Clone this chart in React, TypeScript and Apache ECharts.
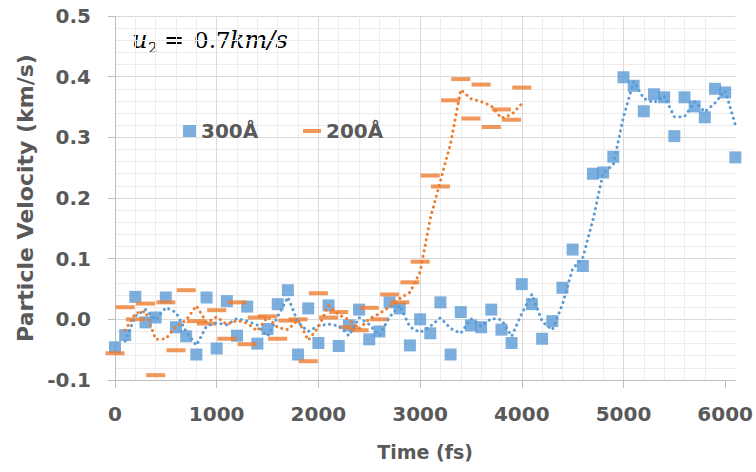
import React, { useEffect, useRef } from "react";
import * as echarts from "echarts";

// Time (fs) for the 300Å run
const t300 = [
  0, 100, 200, 300, 400, 500, 600, 700, 800, 900,
  1000, 1100, 1200, 1300, 1400, 1500, 1600, 1700, 1800, 1900,
  2000, 2100, 2200, 2300, 2400, 2500, 2600, 2700, 2800, 2900,
  3000, 3100, 3200, 3300, 3400, 3500, 3600, 3700, 3800, 3900,
  4000, 4100, 4200, 4300, 4400, 4500, 4600, 4700, 4800, 4900,
  5000, 5100, 5200, 5300, 5400, 5500, 5600, 5700, 5800, 5900,
  6000, 6100,
];
// Particle velocity (km/s) for 300Å
const v300 = [
  -0.046, -0.026, 0.037, -0.005, 0.003, 0.036, -0.013, -0.028, -0.058, 0.036,
  -0.048, 0.030, -0.027, 0.021, -0.040, -0.016, 0.025, 0.048, -0.058, 0.018,
  -0.039, 0.023, -0.044, -0.010, 0.016, -0.033, -0.020, 0.028, 0.018, -0.043,
  0.000, -0.023, 0.028, -0.058, 0.012, -0.010, -0.013, 0.016, -0.017, -0.039,
  0.058, 0.025, -0.032, -0.003, 0.052, 0.115, 0.088, 0.240, 0.242, 0.268,
  0.399, 0.385, 0.343, 0.371, 0.366, 0.302, 0.366, 0.351, 0.333, 0.380,
  0.374, 0.267,
];
// Time (fs) for the 200Å run
const t200 = [
  0, 100, 200, 300, 400, 500, 600, 700, 800, 900,
  1000, 1100, 1200, 1300, 1400, 1500, 1600, 1700, 1800, 1900,
  2000, 2100, 2200, 2300, 2400, 2500, 2600, 2700, 2800, 2900,
  3000, 3100, 3200, 3300, 3400, 3500, 3600, 3700, 3800, 3900,
  4000,
];
// Particle velocity (km/s) for 200Å
const v200 = [
  -0.056, 0.020, 0.000, 0.026, -0.092, 0.028, -0.051, 0.048, -0.003, -0.007,
  0.015, -0.032, 0.028, -0.041, 0.003, 0.005, -0.032, -0.002, 0.000, -0.069,
  0.043, 0.003, 0.012, -0.013, -0.018, 0.019, 0.000, 0.041, 0.028, 0.061,
  0.095, 0.237, 0.219, 0.361, 0.396, 0.331, 0.387, 0.317, 0.346, 0.329,
  0.382,
];
const xTicks = [0, 1000, 2000, 3000, 4000, 5000, 6000];
const seriesNames = ["300Å", "200Å"];

// 2-period moving average trendline (as in the spreadsheet)
function movingAverage(ts: number[], vs: number[]) {
  const out: number[][] = [];
  for (let i = 1; i < vs.length; i++) out.push([ts[i], (vs[i - 1] + vs[i]) / 2]);
  return out;
}

const BLUE = "#5B9BD5";
const ORANGE = "#ED7D31";
const GRAY_TEXT = "#595959";
const FONT = "DejaVu Sans";
const MAJOR = "#d9d9d9";
const MINOR = "#ececec";

export default function App() {
  const ref = useRef<HTMLDivElement>(null);
  useEffect(() => {
    if (!ref.current) return;
    const chart = echarts.init(ref.current, null, { renderer: "svg" });
    const labelStyle = { fontSize: 20, fontWeight: "bold", fontFamily: FONT, color: GRAY_TEXT };
    const option: any = {
      animation: false,
      grid: { left: 115, right: 19, top: 16, bottom: 92, containLabel: false },
      xAxis: [
        {
          type: "value", min: 0, max: 6100, interval: 200, position: "bottom",
          axisLine: { show: false }, axisTick: { show: false }, axisLabel: { show: false },
          splitLine: {
            show: true, showMaxLine: false,
            lineStyle: { color: ["rgba(0,0,0,0)", MINOR, MINOR, MINOR, MINOR], width: 1 },
          },
        },
        {
          type: "value", min: 0, max: 6100, interval: 1000, position: "bottom",
          name: "Time (fs)", nameLocation: "middle", nameGap: 62,
          nameTextStyle: { fontSize: 19, fontWeight: "bold", fontFamily: FONT, color: GRAY_TEXT },
          axisLine: { show: true, onZero: false, lineStyle: { color: "#bfbfbf", width: 1 } },
          axisTick: { show: true, length: 8, customValues: xTicks, lineStyle: { color: "#bfbfbf" } },
          axisLabel: { ...labelStyle, margin: 24, customValues: xTicks, formatter: (v: number) => String(v) },
          splitLine: { show: true, showMaxLine: false, lineStyle: { color: MAJOR, width: 1 } },
        },
      ],
      yAxis: {
        type: "value", min: -0.1, max: 0.5, interval: 0.1,
        name: "Particle Velocity (km/s)", nameLocation: "middle", nameGap: 72,
        nameTextStyle: { fontSize: 22, fontWeight: "bold", fontFamily: FONT, color: GRAY_TEXT },
        axisLine: { show: true, onZero: false, lineStyle: { color: "#bfbfbf", width: 1 } },
        axisTick: { show: true, length: 7, lineStyle: { color: "#bfbfbf" } },
        axisLabel: { ...labelStyle, margin: 24, formatter: (v: number) => v.toFixed(1) },
        splitLine: { show: true, lineStyle: { color: MAJOR, width: 1 } },
        minorTick: { show: false, splitNumber: 5 },
        minorSplitLine: { show: true, lineStyle: { color: MINOR, width: 1 } },
      },
      legend: [
        {
          data: [{ name: seriesNames[0], icon: "rect" }],
          left: 183, top: 121, padding: 0, itemWidth: 13, itemHeight: 12,
          textStyle: { fontSize: 20, fontWeight: "bold", fontFamily: FONT, color: GRAY_TEXT },
        },
        {
          data: [{ name: seriesNames[1], icon: "rect" }],
          left: 303, top: 121, padding: 0, itemWidth: 18, itemHeight: 4,
          textStyle: { fontSize: 20, fontWeight: "bold", fontFamily: FONT, color: GRAY_TEXT },
        },
      ],
      graphic: [
        { type: "text", x: 132, y: 40, style: { text: "u", font: 'italic 24px "DejaVu Serif"', fill: "#000", verticalAlign: "middle" } },
        { type: "text", x: 148, y: 48, style: { text: "2", font: '15px "DejaVu Serif"', fill: "#000", verticalAlign: "middle" } },
        { type: "text", x: 164, y: 40, style: { text: "=", font: '24px "DejaVu Serif"', fill: "#000", verticalAlign: "middle" } },
        { type: "text", x: 194, y: 40, style: { text: "0.7", font: '23px "DejaVu Serif"', fill: "#000", verticalAlign: "middle" } },
        { type: "text", x: 230, y: 40, style: { text: "km/s", font: 'italic 24px "DejaVu Serif"', fill: "#000", verticalAlign: "middle" } },
      ],
      series: [
        {
          type: "scatter", name: seriesNames[0], xAxisIndex: 1,
          data: t300.map((t, i) => [t, v300[i]]),
          symbol: "rect", symbolSize: 12, itemStyle: { color: BLUE }, z: 2,
        },
        {
          type: "scatter", name: seriesNames[1], xAxisIndex: 1,
          data: t200.map((t, i) => [t, v200[i]]),
          symbol: "rect", symbolSize: [19, 4], itemStyle: { color: ORANGE }, z: 3,
        },
        {
          type: "line", name: "ma300", xAxisIndex: 1, data: movingAverage(t300, v300),
          symbol: "none", showSymbol: false, silent: true, z: 4,
          lineStyle: { color: BLUE, width: 3, type: [0.1, 5.5], cap: "round" },
        },
        {
          type: "line", name: "ma200", xAxisIndex: 1, data: movingAverage(t200, v200),
          symbol: "none", showSymbol: false, silent: true, z: 4,
          lineStyle: { color: ORANGE, width: 3, type: [0.1, 5.5], cap: "round" },
        },
      ],
    };
    chart.setOption(option);
    return () => chart.dispose();
  }, []);
  return (
    <div
      ref={ref}
      style={{ position: "absolute", left: 0, top: 0, width: 756, height: 472, background: "#fff" }}
    />
  );
}
